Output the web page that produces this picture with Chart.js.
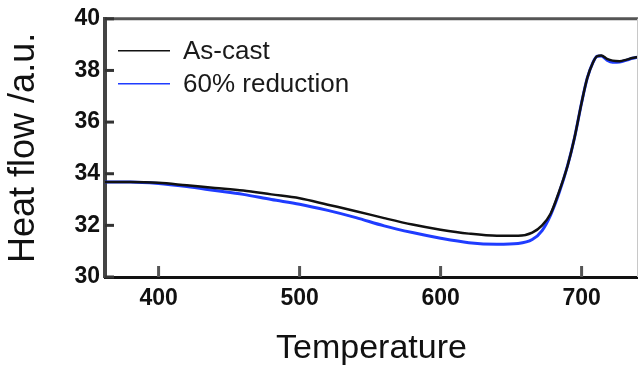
<!DOCTYPE html>
<html><head><meta charset="utf-8">
<script src="https://cdn.jsdelivr.net/npm/chart.js@4/dist/chart.umd.min.js"></script>
<style>html,body{margin:0;padding:0;background:#fff}#wrap{width:638px;height:370px}</style>
</head><body><div id="wrap"><canvas id="c" width="638" height="370"></canvas></div>
<script>
const temperatures = [362,380,400,420,440,460,480,500,520,540,560,580,600,620,640,655,665,672,678,684,690,695,700,704,708,711,714,718,722,727,732,736,740];
const asCast      = [33.68,33.68,33.65,33.55,33.45,33.35,33.2,33.05,32.8,32.55,32.28,32.03,31.83,31.68,31.6,31.6,31.72,32.0,32.45,33.3,34.3,35.4,36.75,37.7,38.3,38.55,38.58,38.45,38.38,38.36,38.42,38.48,38.52];
const reduction60 = [33.68,33.68,33.62,33.5,33.35,33.2,33.0,32.82,32.58,32.3,31.98,31.72,31.5,31.33,31.27,31.3,31.45,31.8,32.4,33.25,34.3,35.4,36.75,37.7,38.3,38.55,38.56,38.4,38.32,38.33,38.4,38.47,38.52];
const seriesLabels = ['As-cast','60% reduction'];
const xTickValues = [400,500,600,700];
const yTickValues = [30,32,34,36,38,40];
const xTitle = 'Temperature';
const yTitle = 'Heat flow /a.u.';

const FONT = '"Liberation Sans", Arial, sans-serif';
const toPts = ys => temperatures.map((t,i)=>({x:t,y:ys[i]}));

const framePlugin = {
  id:'frame',
  afterDraw(chart){
    const ctx = chart.ctx, a = chart.chartArea;
    const xs = chart.scales.x, ys = chart.scales.y;
    ctx.save();
    ctx.strokeStyle = '#555'; ctx.lineWidth = 3;
    ctx.beginPath(); ctx.moveTo(a.left, a.top); ctx.lineTo(a.right, a.top); ctx.stroke();
    ctx.strokeStyle = '#c8c8c8'; ctx.lineWidth = 1;
    ctx.beginPath(); ctx.moveTo(a.right-0.5, a.top); ctx.lineTo(a.right-0.5, a.bottom); ctx.stroke();
    ctx.strokeStyle = '#333'; ctx.lineWidth = 3;
    yTickValues.forEach(v=>{
      const p = ys.getPixelForValue(v);
      ctx.beginPath(); ctx.moveTo(a.left, p); ctx.lineTo(a.left+9, p); ctx.stroke();
    });
    ctx.strokeStyle = '#555'; ctx.lineWidth = 3;
    xTickValues.forEach(v=>{
      const p = xs.getPixelForValue(v);
      ctx.beginPath(); ctx.moveTo(p, a.bottom); ctx.lineTo(p, a.bottom-11); ctx.stroke();
    });
    chart.data.datasets.forEach((ds,i)=>{
      const y = a.top + 32 + i*33;
      ctx.strokeStyle = ds.borderColor; ctx.lineWidth = 1.6;
      ctx.beginPath(); ctx.moveTo(a.left+13, y); ctx.lineTo(a.left+65, y); ctx.stroke();
      ctx.fillStyle = '#1a1a1a'; ctx.font = '26px ' + FONT; ctx.textBaseline = 'middle'; ctx.textAlign='left';
      ctx.fillText(ds.label, a.left+78, y+1);
    });
    ctx.restore();
  }
};

new Chart(document.getElementById('c'), {
  type:'line',
  data:{
    datasets:[
      {label:seriesLabels[0], data:toPts(asCast), borderColor:'#111111', backgroundColor:'#111111', borderWidth:2.5, pointRadius:0, cubicInterpolationMode:'monotone', fill:false},
      {label:seriesLabels[1], data:toPts(reduction60), borderColor:'#1f3cff', backgroundColor:'#1f3cff', borderWidth:3, pointRadius:0, cubicInterpolationMode:'monotone', fill:false}
    ]
  },
  options:{
    responsive:false, devicePixelRatio:1, animation:false,
    layout:{padding:{top:16,left:0,right:0,bottom:0}},
    plugins:{legend:{display:false}, tooltip:{enabled:false}},
    scales:{
      x:{type:'linear', min:362, max:740,
        afterBuildTicks:s=>{s.ticks = xTickValues.map(v=>({value:v}));},
        afterFit:s=>{s.height = 93;},
        grid:{display:true, drawOnChartArea:false, drawTicks:false},
        border:{display:true, color:'#111', width:3},
        ticks:{color:'#111', padding:8, font:{family:FONT, size:23, weight:'bold'}},
        title:{display:true, text:xTitle, color:'#111', font:{family:FONT, size:34}, padding:{top:0,bottom:1}}
      },
      y:{type:'linear', min:30, max:40,
        afterBuildTicks:s=>{s.ticks = yTickValues.map(v=>({value:v}));},
        afterFit:s=>{s.width = 105;},
        grid:{display:true, drawOnChartArea:false, drawTicks:false},
        border:{display:true, color:'#444', width:4},
        ticks:{color:'#111', padding:5, font:{family:FONT, size:23, weight:'bold'}},
        title:{display:true, text:yTitle, color:'#111', font:{family:FONT, size:36, lineHeight:1}, padding:{top:6,bottom:0}}
      }
    }
  },
  plugins:[framePlugin]
});
</script></body></html>
